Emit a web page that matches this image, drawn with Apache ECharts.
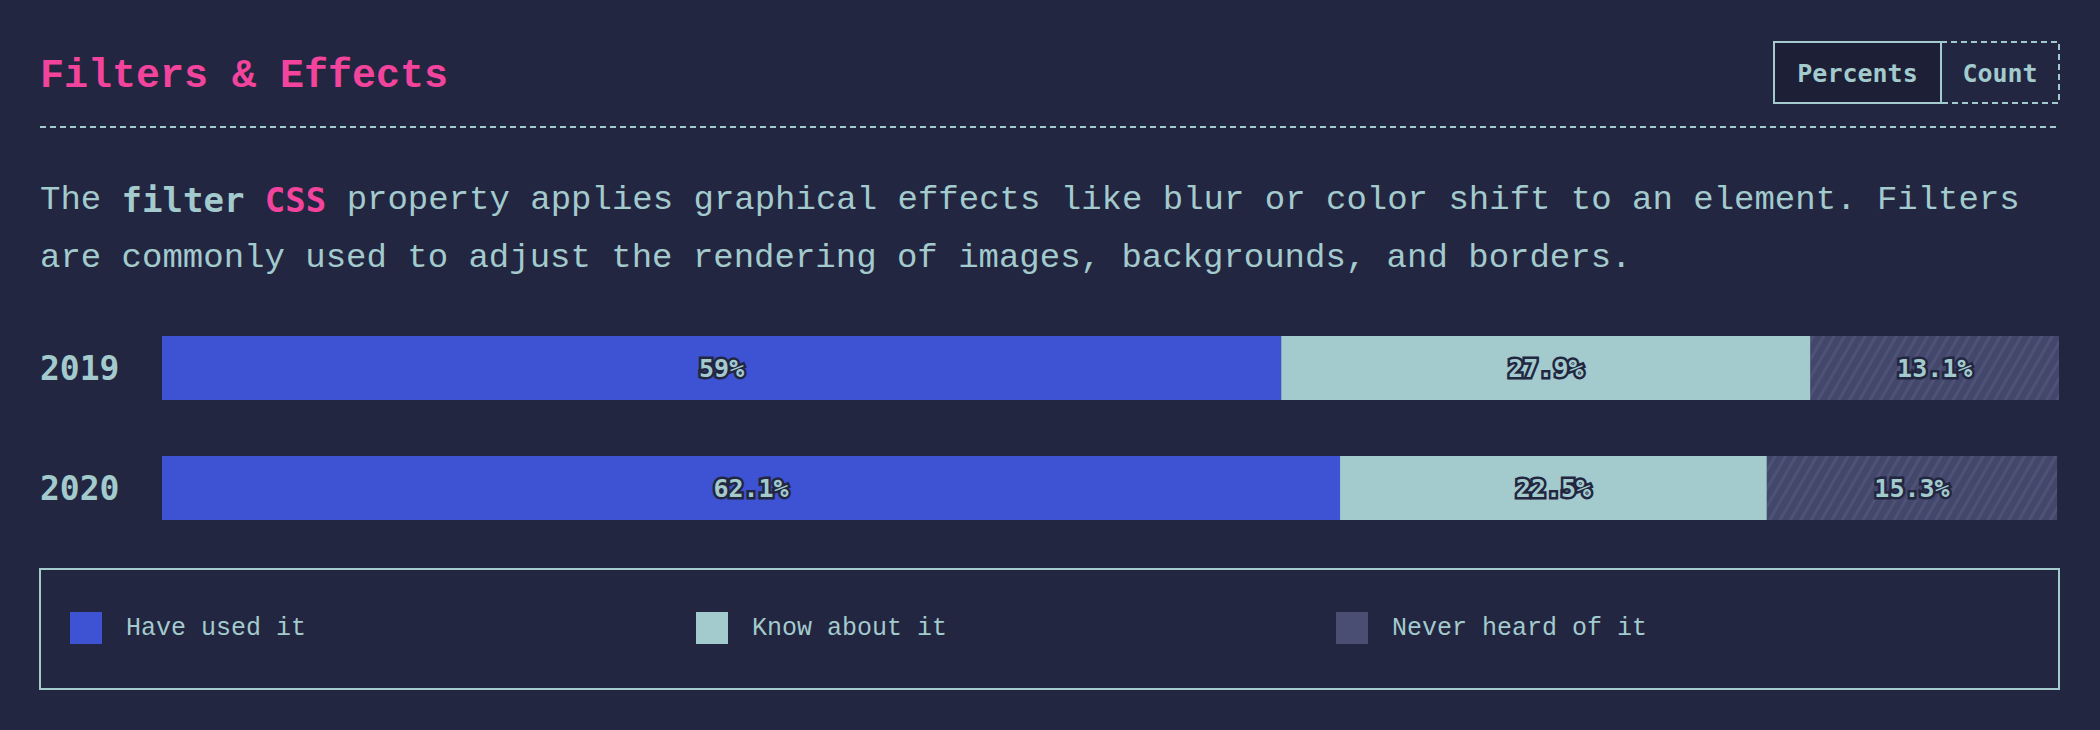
<!DOCTYPE html>
<html>
<head>
<meta charset="utf-8">
<script src="https://cdn.jsdelivr.net/npm/echarts@6/dist/echarts.min.js"></script>
<style>
  html, body { margin: 0; padding: 0; background: #222640; }
  #chart { width: 2100px; height: 730px; }
</style>
</head>
<body>
<div id="chart"></div>
<script>
// ---- data ----
const years = ['2019', '2020'];
const seriesNames = ['Have used it', 'Know about it', 'Never heard of it'];
const haveUsed = [59, 62.1];
const knowAbout = [27.9, 22.5];
const neverHeard = [13.1, 15.3];
const titleText = 'Filters & Effects';
const buttonLabels = ['Percents', 'Count'];

// ---- styles ----
const BG = '#222640';
const LIGHT = '#a3cacd';
const PINK = '#f2449c';
const BLUE = '#3d53d3';
const NEVER = '#43476c';
const MONO = '"Liberation Mono", "DejaVu Sans Mono", monospace';
const MONO_B = '"DejaVu Sans Mono", monospace';

const chart = echarts.init(document.getElementById('chart'), null, { renderer: 'svg' });

const labelStyle = {
  show: true,
  position: 'inside',
  formatter: '{c}%',
  fontFamily: MONO_B,
  fontWeight: 'bold',
  fontSize: 25,
  color: LIGHT,
  textBorderColor: BG,
  textBorderWidth: 5
};

const option = {
  backgroundColor: BG,
  animation: false,
  grid: { left: 162, right: 41, top: 308, height: 240 },
  xAxis: { type: 'value', min: 0, max: 100, show: false },
  yAxis: {
    type: 'category',
    data: years,
    inverse: true,
    axisLine: { show: false },
    axisTick: { show: false },
    splitLine: { show: false },
    axisLabel: {
      align: 'left',
      margin: 122,
      color: LIGHT,
      fontFamily: MONO_B,
      fontWeight: 'bold',
      fontSize: 33
    }
  },
  legend: [
    { data: [seriesNames[0]], left: 70, top: 612 },
    { data: [seriesNames[1]], left: 696, top: 612 },
    { data: [{ name: seriesNames[2], itemStyle: { color: '#4a4e72', decal: 'none' } }], left: 1336, top: 612 }
  ].map(l => Object.assign({
    padding: 0,
    itemWidth: 32,
    itemHeight: 32,
    icon: 'rect',
    selectedMode: false,
    textStyle: { color: LIGHT, fontFamily: MONO, fontSize: 25, padding: [0, 0, 0, 19] }
  }, l)),
  series: [
    { name: seriesNames[0], type: 'bar', stack: 't', data: haveUsed, barWidth: 64,
      itemStyle: { color: BLUE }, label: labelStyle },
    { name: seriesNames[1], type: 'bar', stack: 't', data: knowAbout, barWidth: 64,
      itemStyle: { color: LIGHT }, label: labelStyle },
    { name: seriesNames[2], type: 'bar', stack: 't', data: neverHeard, barWidth: 64,
      itemStyle: { color: NEVER, decal: {
        symbol: 'rect', symbolSize: 1, dashArrayX: [1, 0], dashArrayY: [3, 6],
        rotation: -Math.PI / 3, color: 'rgba(255,255,255,0.06)'
      } },
      label: labelStyle }
  ],
  graphic: [
    { type: 'text', left: 40, top: 56,
      style: { text: titleText, fill: PINK, font: 'bold 40px ' + MONO } },
    { type: 'line', shape: { x1: 40, y1: 127, x2: 2059, y2: 127 },
      style: { stroke: LIGHT, lineWidth: 2, lineDash: [6, 4] } },
    // buttons
    { type: 'rect', shape: { x: 1774, y: 42, width: 167, height: 61 },
      style: { fill: '#1c1f35', stroke: LIGHT, lineWidth: 2 } },
    { type: 'rect', shape: { x: 1941, y: 42, width: 118, height: 61 },
      style: { fill: 'none', stroke: LIGHT, lineWidth: 2, lineDash: [6, 4] } },
    { type: 'text', x: 1857.5, y: 73,
      style: { text: buttonLabels[0], fill: LIGHT, font: 'bold 25px ' + MONO_B, align: 'center', verticalAlign: 'middle' } },
    { type: 'text', x: 2000, y: 73,
      style: { text: buttonLabels[1], fill: LIGHT, font: 'bold 25px ' + MONO_B, align: 'center', verticalAlign: 'middle' } },
    // description
    { type: 'text', x: 40, y: 171,
      style: {
        text: '{n|The }{b|filter}{n| }{p|CSS}{n| property applies graphical effects like blur or color shift to an element. Filters}\n{n|are commonly used to adjust the rendering of images, backgrounds, and borders.}',
        verticalAlign: 'top',
        rich: {
          n: { fill: LIGHT, fontFamily: MONO, fontSize: 34, lineHeight: 58 },
          b: { fill: LIGHT, fontFamily: MONO_B, fontSize: 34, fontWeight: 'bold', lineHeight: 58 },
          p: { fill: PINK, fontFamily: MONO_B, fontSize: 34, fontWeight: 'bold', lineHeight: 58 }
        }
      } },
    // legend box
    { type: 'rect', shape: { x: 40, y: 569, width: 2019, height: 120 },
      style: { fill: 'none', stroke: LIGHT, lineWidth: 2 } }
  ]
};

chart.setOption(option);
</script>
</body>
</html>
